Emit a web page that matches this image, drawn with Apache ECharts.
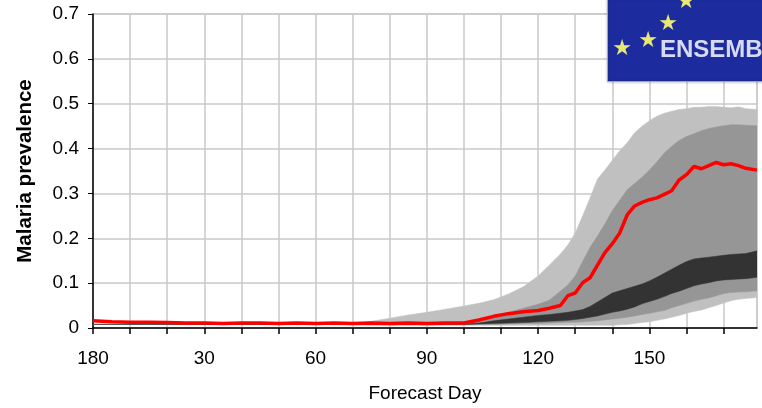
<!DOCTYPE html>
<html>
<head>
<meta charset="utf-8">
<script src="https://cdn.jsdelivr.net/npm/echarts@6/dist/echarts.min.js"></script>
<style>
html,body{margin:0;padding:0;background:#fff;}
#chart{width:762px;height:408px;}
</style>
</head>
<body>
<div id="chart"></div>
<script>
// Forecast days
const days = [0,5,10,15,20,25,30,35,40,45,50,55,60,65,70,75,80,85,90,95,100,
  104,108,112,116,120,123,126,
  128,130,132,134,136,138,140,142,144,146,148,150,152,154,156,158,160,162,164,166,168,170,172,174,176,
  179];

// Red line (ensemble median)
const median = [0.016,0.014,0.013,0.013,0.012,0.011,0.011,0.010,0.011,0.011,0.010,0.011,0.010,0.011,0.010,0.011,0.010,0.011,0.010,0.011,0.011,
  0.018,0.026,0.032,0.036,0.039,0.044,0.050,
  0.072,0.078,0.101,0.112,0.140,0.168,0.188,0.212,0.252,0.272,0.280,0.286,0.290,0.298,0.306,0.330,0.342,0.360,0.355,0.362,0.369,0.364,0.366,0.362,0.356,
  0.352];

// Outer band (light grey) lower / upper
const outerLow = [0.008,0.008,0.008,0.008,0.008,0.008,0.008,0.008,0.008,0.008,0.008,0.008,0.008,0.008,0.007,0.006,0.006,0.006,0.006,0.006,0.006,
  0.006,0.006,0.006,0.006,0.006,0.006,0.006,
  0.006,0.006,0.006,0.006,0.006,0.006,0.006,0.007,0.008,0.010,0.012,0.014,0.017,0.020,0.024,0.028,0.033,0.037,0.040,0.045,0.050,0.056,0.061,0.064,0.066,
  0.068];
const outerHigh = [0.008,0.008,0.008,0.008,0.008,0.008,0.008,0.008,0.008,0.008,0.008,0.008,0.008,0.008,0.010,0.015,0.022,0.029,0.035,0.042,0.049,
  0.055,0.063,0.076,0.092,0.116,0.140,0.165,
  0.185,0.212,0.250,0.290,0.332,0.352,0.374,0.395,0.413,0.435,0.450,0.462,0.472,0.479,0.483,0.487,0.489,0.492,0.492,0.494,0.494,0.492,0.491,0.493,0.489,
  0.487];

// Middle band (mid grey) lower / upper
const midLow = [0.008,0.008,0.008,0.008,0.008,0.008,0.008,0.008,0.008,0.008,0.008,0.008,0.008,0.008,0.008,0.008,0.008,0.008,0.008,0.008,0.008,
  0.008,0.008,0.009,0.010,0.010,0.011,0.012,
  0.013,0.013,0.014,0.015,0.016,0.018,0.020,0.022,0.024,0.027,0.030,0.033,0.036,0.039,0.045,0.050,0.055,0.060,0.064,0.067,0.072,0.077,0.079,0.080,0.081,
  0.083];
const midHigh = [0.008,0.008,0.008,0.008,0.008,0.008,0.008,0.008,0.008,0.008,0.008,0.008,0.008,0.008,0.008,0.008,0.008,0.008,0.008,0.008,0.013,
  0.019,0.027,0.035,0.044,0.053,0.062,0.082,
  0.096,0.116,0.148,0.180,0.205,0.232,0.262,0.285,0.308,0.322,0.336,0.352,0.370,0.390,0.405,0.418,0.427,0.433,0.440,0.445,0.448,0.451,0.453,0.453,0.452,
  0.451];

// Inner band (dark) lower / upper
const innerLow = [0.008,0.008,0.008,0.008,0.008,0.008,0.008,0.008,0.008,0.008,0.008,0.008,0.008,0.008,0.008,0.008,0.008,0.008,0.008,0.008,0.008,
  0.009,0.010,0.011,0.012,0.014,0.015,0.016,
  0.017,0.019,0.021,0.024,0.027,0.031,0.035,0.038,0.042,0.047,0.054,0.059,0.064,0.070,0.077,0.082,0.088,0.094,0.098,0.101,0.105,0.107,0.108,0.109,0.110,
  0.113];
const innerHigh = [0.008,0.008,0.008,0.008,0.008,0.008,0.008,0.008,0.008,0.008,0.008,0.008,0.008,0.008,0.008,0.008,0.008,0.008,0.008,0.008,0.008,
  0.011,0.016,0.020,0.024,0.028,0.030,0.033,
  0.035,0.038,0.041,0.048,0.058,0.068,0.078,0.083,0.088,0.093,0.098,0.105,0.113,0.122,0.131,0.140,0.148,0.154,0.156,0.158,0.160,0.162,0.164,0.165,0.166,
  0.172];

// Tick labels
const xTickDays = [0,30,60,90,120,150];
const xTickLabels = ['180','30','60','90','120','150'];
const yTickLabels = ['0','0.1','0.2','0.3','0.4','0.5','0.6','0.7'];

const xTitle = 'Forecast Day';
const yTitle = 'Malaria prevalence';

[median,outerLow,outerHigh,midLow,midHigh,innerLow,innerHigh].forEach(function(a,i){
  if (a.length !== days.length) throw new Error('length mismatch in array ' + i + ': ' + a.length);
});

function bandSeries(low, high, color, z) {
  return {
    type: 'custom',
    silent: true,
    z: z,
    clip: true,
    encode: { x: 0, y: [1, 2] },
    data: days.map(function(d, i){ return [d, low[i], high[i]]; }),
    renderItem: function(params, api) {
      if (params.dataIndex !== 0) return null;
      const pts = [];
      for (let i = 0; i < days.length; i++) pts.push(api.coord([days[i], low[i]]));
      for (let i = days.length - 1; i >= 0; i--) pts.push(api.coord([days[i], high[i]]));
      return {
        type: 'polygon',
        shape: { points: pts },
        style: { fill: color, stroke: color, lineWidth: 0.5 }
      };
    }
  };
}

const chart = echarts.init(document.getElementById('chart'), null, { renderer: 'canvas' });
const FONT = 'Liberation Sans, Arial, sans-serif';

chart.setOption({
  animation: false,
  backgroundColor: '#ffffff',
  grid: {
    left: 93, right: 5, top: 14, bottom: 79,
    show: true, borderColor: '#b4b4b4', borderWidth: 1
  },
  xAxis: {
    type: 'value',
    min: 0, max: 179, interval: 10,
    name: xTitle,
    nameLocation: 'middle',
    nameGap: 56,
    nameTextStyle: { fontFamily: FONT, fontSize: 19, color: '#000' },
    axisLine: { show: true, onZero: false, lineStyle: { color: '#000', width: 1.5 } },
    axisTick: { show: true, length: 6, lineStyle: { color: '#000', width: 1.5 } },
    axisLabel: {
      margin: 21,
      fontFamily: FONT, fontSize: 19, color: '#000',
      showMaxLabel: false,
      formatter: function(v){ const i = xTickDays.indexOf(v); return i >= 0 ? xTickLabels[i] : ''; }
    },
    splitLine: { show: true, lineStyle: { color: '#c8c8c8', width: 1.5 } }
  },
  yAxis: {
    type: 'value',
    min: 0, max: 0.7, interval: 0.1,
    name: yTitle,
    nameLocation: 'middle',
    nameGap: 57,
    nameTextStyle: { fontFamily: FONT, fontSize: 20.5, fontWeight: 'bold', color: '#000' },
    axisLine: { show: true, lineStyle: { color: '#000', width: 1.5 } },
    axisTick: { show: true, length: 5, lineStyle: { color: '#000', width: 1 } },
    axisLabel: {
      margin: 14,
      fontFamily: FONT, fontSize: 19, color: '#000',
      formatter: function(v){ return yTickLabels[Math.round(v * 10)]; }
    },
    splitLine: { show: true, lineStyle: { color: '#c8c8c8', width: 1.5 } }
  },
  series: [
    bandSeries(outerLow, outerHigh, '#c0c0c0', 2),
    bandSeries(midLow, midHigh, '#969696', 3),
    bandSeries(innerLow, innerHigh, '#333333', 4),
    {
      type: 'line',
      name: 'median',
      data: days.map(function(d, i){ return [d, median[i]]; }),
      symbol: 'none',
      lineStyle: { color: '#ff0000', width: 3.5 },
      z: 5
    }
  ],
  graphic: [
    { type: 'rect', left: 607, top: -2, shape: { width: 160, height: 83 },
      style: { fill: '#1c2c9e', stroke: '#9aa2cc', lineWidth: 1, shadowBlur: 3, shadowColor: 'rgba(0,0,0,0.3)' }, z: 100 },
    { type: 'text', x: 622, y: 49, style: { text: '★', fill: '#e8e872', fontSize: 22, fontFamily: 'DejaVu Sans', align: 'center', verticalAlign: 'middle' }, z: 101 },
    { type: 'text', x: 648, y: 41, style: { text: '★', fill: '#e8e872', fontSize: 22, fontFamily: 'DejaVu Sans', align: 'center', verticalAlign: 'middle' }, z: 101 },
    { type: 'text', x: 668, y: 24, style: { text: '★', fill: '#e8e872', fontSize: 22, fontFamily: 'DejaVu Sans', align: 'center', verticalAlign: 'middle' }, z: 101 },
    { type: 'text', x: 686, y: 2, style: { text: '★', fill: '#e8e872', fontSize: 22, fontFamily: 'DejaVu Sans', align: 'center', verticalAlign: 'middle' }, z: 101 },
    { type: 'text', x: 660, y: 50, style: { text: 'ENSEMBLES', fill: '#d6daf2', fontSize: 24, fontWeight: 'bold', fontFamily: FONT, align: 'left', verticalAlign: 'middle' }, z: 101 }
  ]
});
</script>
</body>
</html>
